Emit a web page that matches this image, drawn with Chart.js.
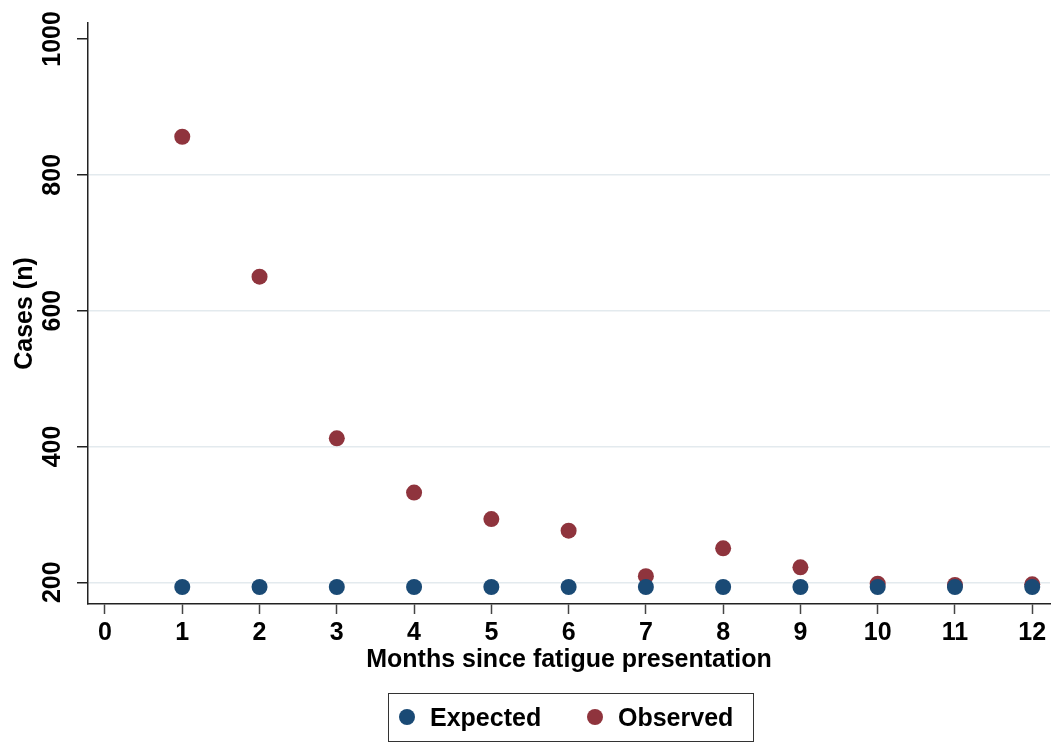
<!DOCTYPE html>
<html>
<head>
<meta charset="utf-8">
<script src="https://cdn.jsdelivr.net/npm/chart.js@4/dist/chart.umd.min.js"></script>
<style>
  html, body { margin: 0; padding: 0; background: #fff; }
  #wrap { position: relative; width: 1058px; height: 745px; }
  #legend {
    position: absolute; left: 388px; top: 693px; width: 366px; height: 49px;
    border: 1.5px solid #333; box-sizing: border-box;
    font-family: "Liberation Sans", Arial, sans-serif; font-size: 25px; font-weight: bold; color: #000;
  }
  .item { position: absolute; top: 9px; line-height: 28px; }
  .dot { position: absolute; width: 16px; height: 16px; border-radius: 50%; top: 15px; }
</style>
</head>
<body>
<div id="wrap">
  <canvas id="c" width="1058" height="745"></canvas>
  <div id="legend"></div>
</div>
<script>
const months = [1, 2, 3, 4, 5, 6, 7, 8, 9, 10, 11, 12];
const expected = [193, 193, 193, 193, 193, 193, 193, 193, 193, 193, 193, 193];
const observed = [856, 650, 412, 332, 293, 276, 209, 250, 222, 198, 196, 197];
const yTicks = [200, 400, 600, 800, 1000];
const xTicks = [0, 1, 2, 3, 4, 5, 6, 7, 8, 9, 10, 11, 12];
const seriesNames = ['Expected', 'Observed'];
const seriesColors = ['#1a4a75', '#8f343d'];

const FONT = '"Liberation Sans", Arial, sans-serif';

const toPts = (vals) => months.map((m, i) => ({ x: m, y: vals[i] }));

// draw rotated y tick labels centred on their ticks
const yLabelPlugin = {
  id: 'yLabels',
  afterDraw(chart) {
    const s = chart.scales.y;
    const c = chart.ctx;
    c.save();
    c.font = 'bold 25px ' + FONT;
    c.fillStyle = '#000';
    c.textAlign = 'center';
    c.textBaseline = 'middle';
    yTicks.forEach(v => {
      const py = s.getPixelForValue(v);
      c.save();
      c.translate(52, py);
      c.rotate(-Math.PI / 2);
      c.fillText(String(v), 0, 1);
      c.restore();
    });
    c.restore();
  }
};

const ctx = document.getElementById('c').getContext('2d');
new Chart(ctx, {
  type: 'scatter',
  data: {
    datasets: [
      { label: seriesNames[0], data: toPts(expected), backgroundColor: seriesColors[0], borderColor: seriesColors[0], pointRadius: 8, pointHoverRadius: 8, borderWidth: 0 },
      { label: seriesNames[1], data: toPts(observed), backgroundColor: seriesColors[1], borderColor: seriesColors[1], pointRadius: 8, pointHoverRadius: 8, borderWidth: 0 }
    ]
  },
  options: {
    responsive: false,
    animation: false,
    layout: { padding: { left: 0, right: 3, top: 23, bottom: 70 } },
    plugins: { legend: { display: false }, tooltip: { enabled: false } },
    scales: {
      x: {
        type: 'linear', min: -0.22, max: 12.23,
        afterBuildTicks: (s) => { s.ticks = xTicks.map(v => ({ value: v })); },
        afterFit: (s) => { s.height = 71; },
        grid: { display: true, drawOnChartArea: false, drawTicks: true, tickLength: 10, tickColor: '#444', tickWidth: 1.5 },
        border: { display: true, color: '#222', width: 1.5 },
        ticks: { color: '#000', font: { family: FONT, size: 25, weight: 'bold' }, padding: 4, maxRotation: 0, autoSkip: false },
        title: { display: true, text: 'Months since fatigue presentation', color: '#000', font: { family: FONT, size: 25, weight: 'bold' }, padding: { top: 0, bottom: 0 } }
      },
      y: {
        type: 'linear', min: 168, max: 1023.5,
        afterBuildTicks: (s) => { s.ticks = yTicks.map(v => ({ value: v })); },
        afterFit: (s) => { s.width = 88; },
        grid: {
          display: true, drawTicks: true, tickLength: 11, tickWidth: 1.5, tickColor: '#222',
          color: (c) => (c.tick && c.tick.value === 1000) ? 'rgba(0,0,0,0)' : '#e3eaee', lineWidth: 1.5
        },
        border: { display: true, color: '#222', width: 1.5 },
        ticks: { display: false },
        title: { display: true, text: 'Cases (n)', color: '#000', font: { family: FONT, size: 25, weight: 'bold' }, padding: { top: 10, bottom: 0 } }
      }
    }
  },
  plugins: [yLabelPlugin]
});

const legend = document.getElementById('legend');
const pos = [{ dot: 10, text: 41 }, { dot: 198, text: 229 }];
seriesNames.forEach((n, i) => {
  const d = document.createElement('div'); d.className = 'dot';
  d.style.left = pos[i].dot + 'px'; d.style.background = seriesColors[i];
  const t = document.createElement('div'); t.className = 'item';
  t.style.left = pos[i].text + 'px'; t.textContent = n;
  legend.appendChild(d); legend.appendChild(t);
});
</script>
</body>
</html>
